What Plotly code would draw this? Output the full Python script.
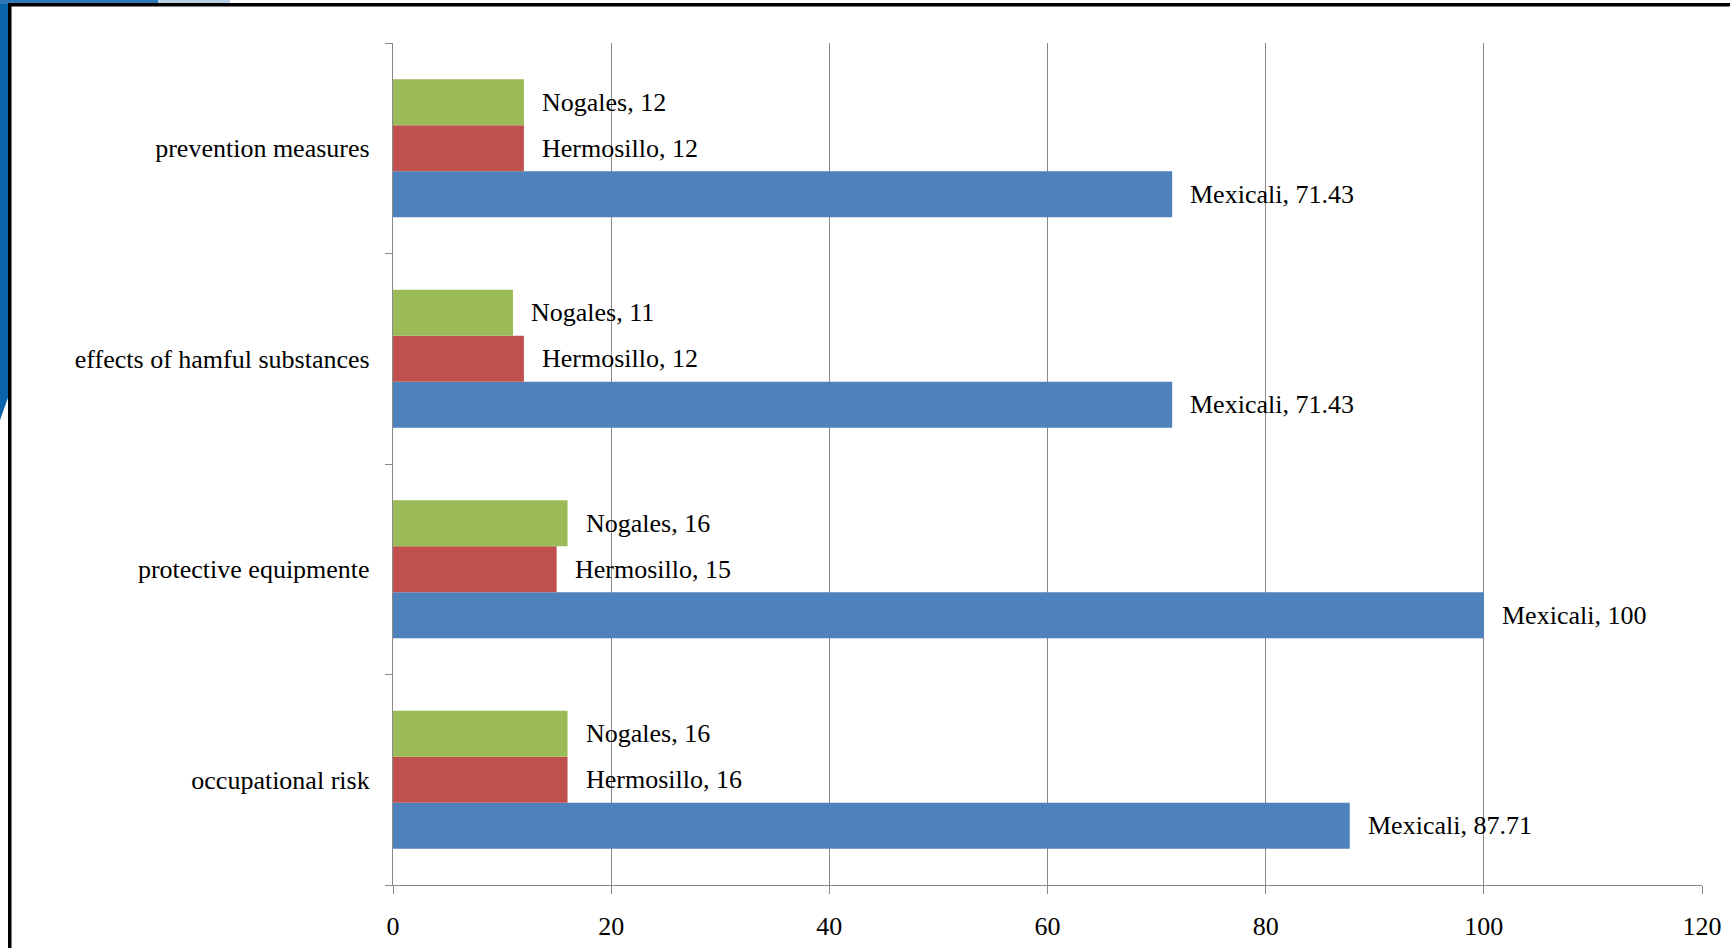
import plotly.graph_objects as go

# Survey topics (bottom to top) and percentage per city
categories = ["occupational risk", "protective equipmente",
              "effects of hamful substances", "prevention measures"]
mexicali = [87.71, 100, 71.43, 71.43]
hermosillo = [16, 15, 12, 12]
nogales = [16, 16, 11, 12]

series = [
    ("Mexicali", mexicali, "#4F81BD"),
    ("Hermosillo", hermosillo, "#C0504D"),
    ("Nogales", nogales, "#9BBB59"),
]

W, H = 1730, 948
ML, MR, MT, MB = 393, 28, 43, 63
PW, PH = W - ML - MR, H - MT - MB

FONT = "Liberation Serif, Times New Roman, serif"
GRID = "#898989"

fig = go.Figure()
for name, vals, color in series:
    fig.add_trace(go.Bar(
        y=categories, x=vals, name=name, orientation="h",
        marker=dict(color=color, line=dict(width=0)),
    ))

# Data labels "City, value" to the right of each bar
bar_px = PH / len(categories) * (1 - 0.344) / len(series)
for k, (name, vals, _) in enumerate(series):
    shift = (k - 1) * bar_px
    for cat, v in zip(categories, vals):
        fig.add_annotation(
            x=v, y=cat, xref="x", yref="y", text=f"{name}, {v:g}",
            showarrow=False, xanchor="left", yanchor="middle",
            xshift=16, yshift=shift,
            font=dict(family=FONT, size=26, color="#000000"),
        )

def px_x(p):
    return (p - ML) / PW

def px_y(p):
    return 1 - (p - MT) / PH

# Slide frame: blue backdrop strips and black border
shapes = [
    dict(type="rect", xref="paper", yref="paper", layer="below",
         x0=px_x(0), x1=px_x(9), y0=px_y(0), y1=px_y(360),
         fillcolor="#0A64AC", line=dict(width=0)),
    dict(type="path", xref="paper", yref="paper", layer="below",
         path=f"M {px_x(0)},{px_y(355)} L {px_x(9)},{px_y(340)} L {px_x(9)},{px_y(395)} L {px_x(0)},{px_y(420)} Z",
         fillcolor="#0A64AC", line=dict(width=0)),
    dict(type="rect", xref="paper", yref="paper", layer="below",
         x0=px_x(0), x1=px_x(158), y0=px_y(0), y1=px_y(4),
         fillcolor="#2F78B8", line=dict(width=0)),
    dict(type="rect", xref="paper", yref="paper", layer="below",
         x0=px_x(158), x1=px_x(230), y0=px_y(0), y1=px_y(4),
         fillcolor="#B9CFE3", line=dict(width=0)),
    dict(type="rect", xref="paper", yref="paper",
         x0=px_x(8), x1=px_x(11.5), y0=px_y(3), y1=px_y(H),
         fillcolor="#000000", line=dict(width=0)),
    dict(type="rect", xref="paper", yref="paper",
         x0=px_x(8), x1=px_x(W), y0=px_y(3), y1=px_y(6.5),
         fillcolor="#000000", line=dict(width=0)),
]

fig.update_layout(
    width=W, height=H,
    margin=dict(l=ML, r=MR, t=MT, b=MB, pad=0, autoexpand=False),
    paper_bgcolor="#FFFFFF", plot_bgcolor="#FFFFFF",
    barmode="group", bargap=0.344, bargroupgap=0,
    showlegend=False,
    font=dict(family=FONT, size=26, color="#000000"),
    shapes=shapes,
    xaxis=dict(
        range=[0, 120], dtick=20, tick0=0, automargin=False,
        showgrid=True, gridcolor=GRID, gridwidth=1.3,
        showline=True, linecolor=GRID, linewidth=1.3,
        ticks="outside", ticklen=8, tickcolor=GRID, tickwidth=1.3,
        zeroline=False, fixedrange=True,
        tickfont=dict(family=FONT, size=26, color="#000000"),
        ticklabelstandoff=10,
    ),
    yaxis=dict(
        type="category", categoryorder="array", categoryarray=categories,
        automargin=False,
        showgrid=False, showline=True, linecolor=GRID, linewidth=1.3,
        ticks="outside", ticklen=7, tickcolor=GRID, tickwidth=1.3,
        tickson="boundaries", zeroline=False, fixedrange=True,
        tickfont=dict(family=FONT, size=26, color="#000000"),
        ticklabelstandoff=17,
    ),
)

fig.write_html("out.html")
